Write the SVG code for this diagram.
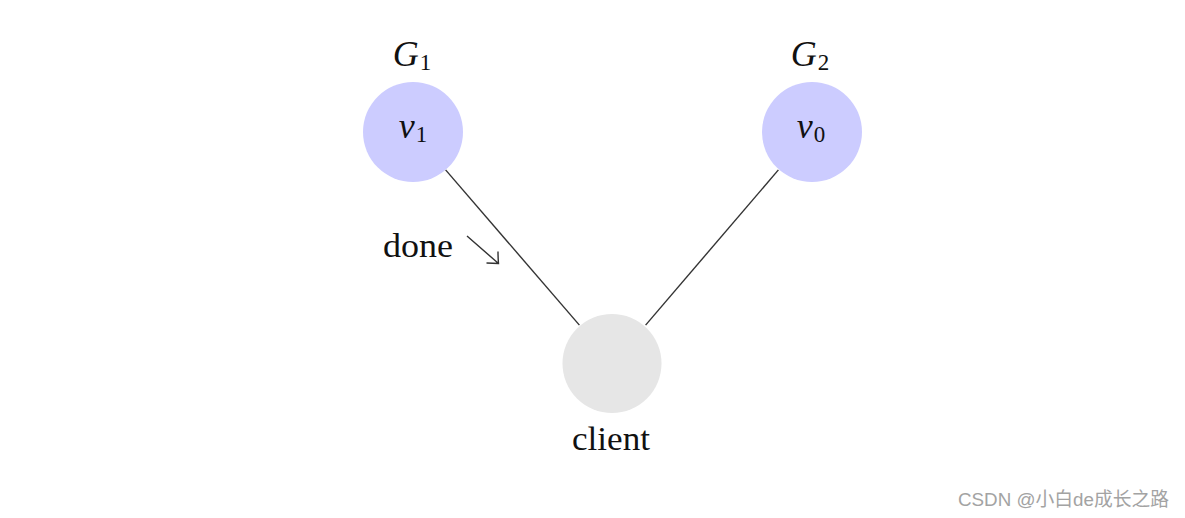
<svg xmlns="http://www.w3.org/2000/svg" width="1185" height="518" viewBox="0 0 1185 518">
  <style>
    .lbl { font-family: "Liberation Serif", "DejaVu Serif", serif; font-size: 34px; fill: #111; }
    .math { font-style: italic; font-size: 36px; }
    .sub { font-size: 23px; font-style: normal; }
    .edge { stroke: #333333; stroke-width: 1.4; fill: none; }
    .blue { fill: #ccccff; }
    .gray { fill: #e6e6e6; }
    .wm { font-family: "Liberation Sans", "Noto Sans CJK SC", sans-serif; font-size: 18.8px; fill: #a3a3a3; }
  </style>
  <rect width="1185" height="518" fill="#ffffff"/>
  <g id="connectors">
    <line class="edge" x1="445.6" y1="169.9" x2="579.4" y2="325.1"/>
    <line class="edge" x1="778.4" y1="169.9" x2="645.6" y2="325.1"/>
  </g>
  <g id="node-v1">
    <circle class="blue" cx="413" cy="132" r="50"/>
    <text class="lbl" x="412" y="66" text-anchor="middle"><tspan class="math">G</tspan><tspan class="sub" dx="1" dy="4">1</tspan></text>
    <text class="lbl" x="413" y="138" text-anchor="middle"><tspan class="math">v</tspan><tspan class="sub" dx="1" dy="4">1</tspan></text>
  </g>
  <g id="node-v0">
    <circle class="blue" cx="812" cy="132" r="50"/>
    <text class="lbl" x="810" y="66" text-anchor="middle"><tspan class="math">G</tspan><tspan class="sub" dx="1" dy="4">2</tspan></text>
    <text class="lbl" x="811" y="138" text-anchor="middle"><tspan class="math">v</tspan><tspan class="sub" dx="1" dy="4">0</tspan></text>
  </g>
  <g id="node-client">
    <circle class="gray" cx="612" cy="363.5" r="49.5"/>
    <text class="lbl" x="572" y="450" textLength="78" lengthAdjust="spacingAndGlyphs">client</text>
  </g>
  <g id="label-done">
    <text class="lbl" x="383" y="257" textLength="70" lengthAdjust="spacingAndGlyphs">done</text>
    <path class="edge" d="M467,236 L498.5,263.5 M486.5,263 Q493,263 498.5,263.5 Q498,258 498,251.5"/>
  </g>
  <text class="wm" x="958" y="506">CSDN @小白de成长之路</text>
</svg>
